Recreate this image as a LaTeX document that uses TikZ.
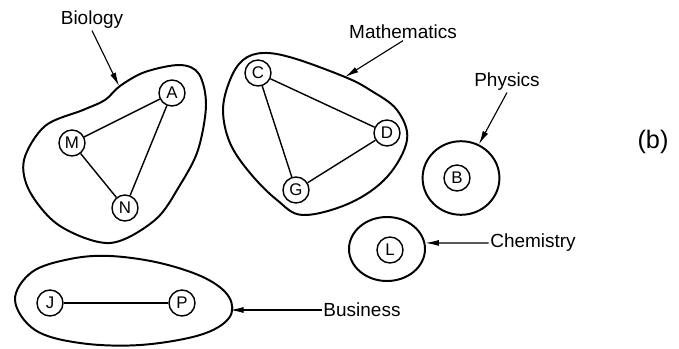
\documentclass[tikz,border=0pt]{standalone}
\usepackage{fontspec}
\setmainfont{Liberation Sans}
\usetikzlibrary{arrows.meta,shapes.geometric}
\tikzset{
  member/.style   ={circle,draw,line width=1pt,minimum size=6.5mm,inner sep=0pt,
                    font=\fontsize{12}{13}\selectfont},
  tie/.style      ={line width=1pt},
  group/.style    ={line width=1.4pt},
  groupnode/.style={ellipse,draw,line width=1.4pt,inner sep=0pt},
  pointer/.style  ={-{Latex[length=3.4mm,width=1.5mm]},line width=0.8pt},
  lbl/.style      ={font=\fontsize{13.5}{15}\selectfont,inner sep=1pt},
  tag/.style      ={font=\fontsize{18}{20}\selectfont},
}
\begin{document}
\begin{tikzpicture}[x=0.25mm,y=-0.25mm]
\useasboundingbox (0,0) rectangle (679,348);

%% Biology
\node[member] (A) at (172,93)  {A};
\node[member] (M) at (72,143)  {M};
\node[member] (N) at (125,208) {N};
\draw[tie] (M) -- (A) (M) -- (N) (N) -- (A);
\draw[group] plot[smooth cycle,tension=0.55] coordinates {
  (120,86) (145,72) (180,65) (199,74) (206,105) (198,150) (180,185) (155,220)
  (110,243) (60,226) (30,192) (24,160) (45,126) (83,110) (105,100)};
\coordinate (bioTip) at (119,86);
\node[lbl] (bio) at (92,20) {Biology};
\draw[pointer] (bio.south) -- (bioTip);

%% Mathematics
\node[member] (C) at (258,73)  {C};
\node[member] (D) at (387,133) {D};
\node[member] (G) at (296,190) {G};
\draw[tie] (C) -- (D) (C) -- (G) (G) -- (D);
\draw[group] plot[smooth cycle,tension=0.6] coordinates {
  (263,53) (293,58) (345,77) (370,90) (397,110) (407,140) (387,177) (350,203)
  (303,215) (277,200) (250,173) (230,143) (223,110) (230,80) (243,60)};
\coordinate (mathTip) at (345,77);
\node[lbl] (math) at (403,32) {Mathematics};
\draw[pointer] (math.south) -- (mathTip);

%% Physics
\node[member] (B) at (457,178) {B};
\node[groupnode,minimum width=19.2mm,minimum height=18.4mm] (Bgrp) at (461,178) {};
\node[lbl] (phys) at (507,82) {Physics};
\draw[pointer] (phys.south) -- (Bgrp.62);

%% Chemistry
\node[member] (L) at (390,250) {L};
\node[groupnode,minimum width=19mm,minimum height=16mm] (Lgrp) at (387,249) {};
\node[lbl] (chem) at (533,243) {Chemistry};
\draw[pointer] (chem.west) -- (Lgrp.9);

%% Business
\node[member] (J) at (50,303)  {J};
\node[member] (P) at (182,303) {P};
\draw[tie] (J) -- (P);
\draw[group] plot[smooth cycle,tension=0.6] coordinates {
  (15,300) (32,272) (70,259) (110,256) (160,263) (205,278) (229,297) (229,318)
  (200,335) (140,345) (80,343) (35,330)};
\coordinate (busTip) at (230,310);
\node[lbl] (bus) at (362,310) {Business};
\draw[pointer] (bus.west) -- (busTip);

\node[tag] (part) at (653,142) {(b)};
\end{tikzpicture}
\end{document}
